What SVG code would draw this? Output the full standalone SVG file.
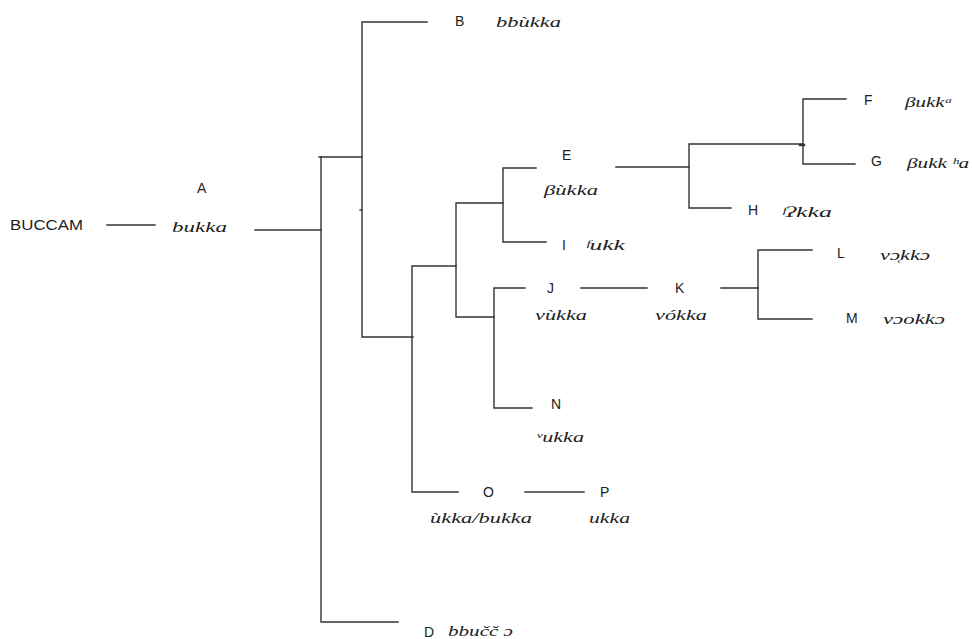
<svg xmlns="http://www.w3.org/2000/svg" width="972" height="639" viewBox="0 0 972 639">
<style>
.ln{stroke:#333;stroke-width:1.4;fill:none;stroke-linecap:square}
.lb{font-family:"Liberation Sans",Arial,sans-serif;font-size:14px;fill:#222}
.fm{font-family:"Liberation Serif","DejaVu Serif",serif;font-style:italic;font-size:15px;fill:#222}
</style>
<rect width="972" height="639" fill="#fff"/>
<g id="connectors">
<path class="ln" d="M107 225H155"/>
<path class="ln" d="M255 230H321"/>
<path class="ln" d="M321 157V622H398"/>
<path class="ln" d="M319 157H362"/>
<path class="ln" d="M427 22H362V337H413"/>
<path class="ln" d="M360 210H362"/>
<path class="ln" d="M456 266H412V492H458"/>
<path class="ln" d="M503 203H456V317H494"/>
<path class="ln" d="M536 168H503V242H546"/>
<path class="ln" d="M525 288H494V408H532"/>
<path class="ln" d="M616 167H689"/>
<path class="ln" d="M803 144H689V208H731"/>
<path class="ln" d="M846 99H803V164H855"/>
<path class="ln" d="M800 145H804" style="stroke-width:2.4"/>
<path class="ln" d="M581 288H647"/>
<path class="ln" d="M721 288H758"/>
<path class="ln" d="M812 250H758V319H812"/>
<path class="ln" d="M525 492H584"/>
</g>
<g id="BUCCAM"><text class="lb" x="10" y="230" textLength="73" lengthAdjust="spacingAndGlyphs">BUCCAM</text></g>
<g id="A"><text class="lb" x="197" y="193">A</text><text class="fm" x="172" y="232" textLength="55" lengthAdjust="spacingAndGlyphs">bukka</text></g>
<g id="B"><text class="lb" x="455" y="26">B</text><text class="fm" x="496" y="27" textLength="65" lengthAdjust="spacingAndGlyphs">bbùkka</text></g>
<g id="E"><text class="lb" x="562" y="160">E</text><text class="fm" x="544" y="195" textLength="54" lengthAdjust="spacingAndGlyphs">βùkka</text></g>
<g id="F"><text class="lb" x="864" y="105">F</text><text class="fm" x="905" y="107" textLength="48" lengthAdjust="spacingAndGlyphs">βukkᵃ</text></g>
<g id="G"><text class="lb" x="871" y="166">G</text><text class="fm" x="907" y="168" textLength="62" lengthAdjust="spacingAndGlyphs">βukk ʰa</text></g>
<g id="H"><text class="lb" x="748" y="215">H</text><text class="fm" x="781" y="217" textLength="51" lengthAdjust="spacingAndGlyphs">ᶠʔkka</text></g>
<g id="I"><text class="lb" x="562" y="250">I</text><text class="fm" x="585" y="250" textLength="40" lengthAdjust="spacingAndGlyphs">ᶠukk</text></g>
<g id="J"><text class="lb" x="547" y="293">J</text><text class="fm" x="535" y="320" textLength="52" lengthAdjust="spacingAndGlyphs">vùkka</text></g>
<g id="K"><text class="lb" x="675" y="293">K</text><text class="fm" x="655" y="320" textLength="52" lengthAdjust="spacingAndGlyphs">vókka</text></g>
<g id="L"><text class="lb" x="837" y="258">L</text><text class="fm" x="880" y="260" textLength="50" lengthAdjust="spacingAndGlyphs">vɔ̜kkɔ</text></g>
<g id="M"><text class="lb" x="846" y="323">M</text><text class="fm" x="883" y="324" textLength="62" lengthAdjust="spacingAndGlyphs">vɔokkɔ</text></g>
<g id="N"><text class="lb" x="551" y="409">N</text><text class="fm" x="536" y="442" textLength="48" lengthAdjust="spacingAndGlyphs">ᵛukka</text></g>
<g id="O"><text class="lb" x="483" y="497">O</text><text class="fm" x="430" y="523" textLength="102" lengthAdjust="spacingAndGlyphs">ùkka/bukka</text></g>
<g id="P"><text class="lb" x="600" y="497">P</text><text class="fm" x="589" y="523" textLength="41" lengthAdjust="spacingAndGlyphs">ukka</text></g>
<g id="D"><text class="lb" x="424" y="637">D</text><text class="fm" x="448" y="636" textLength="65" lengthAdjust="spacingAndGlyphs">bbučč ɔ</text></g>
</svg>
